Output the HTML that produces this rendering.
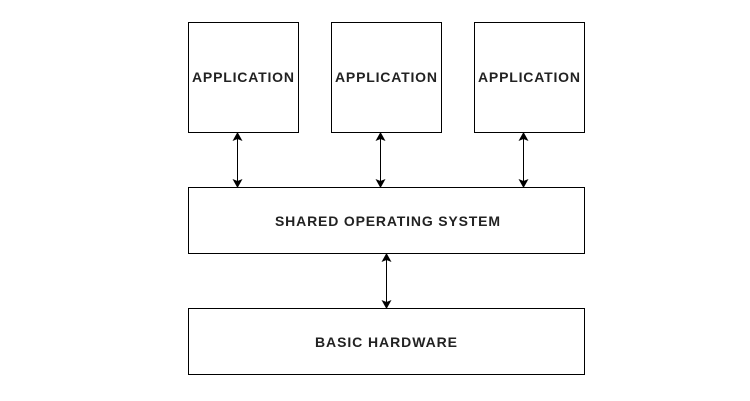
<!DOCTYPE html>
<html><head><style>html,body{margin:0;padding:0;background:#fff}</style></head>
<body>
<svg width="750" height="401" xmlns="http://www.w3.org/2000/svg" style="display:block">
<defs>
<marker id="a" markerWidth="9" markerHeight="10" refX="8" refY="5" orient="auto-start-reverse" markerUnits="userSpaceOnUse">
<path d="M0,0 L9,5 L0,10 L2,5 Z" fill="#000"/>
</marker>
</defs>
<g fill="#fff" stroke="#000" stroke-width="1">
<rect x="188.5" y="22.5" width="110" height="110"/>
<rect x="331.5" y="22.5" width="110" height="110"/>
<rect x="474.5" y="22.5" width="110" height="110"/>
<rect x="188.5" y="187.5" width="396" height="66"/>
<rect x="188.5" y="308.5" width="396" height="66"/>
</g>
<g stroke="#000" stroke-width="1" marker-start="url(#a)" marker-end="url(#a)">
<line x1="237.5" y1="133" x2="237.5" y2="187"/>
<line x1="380.5" y1="133" x2="380.5" y2="187"/>
<line x1="523.5" y1="133" x2="523.5" y2="187"/>
<line x1="386.5" y1="254" x2="386.5" y2="308"/>
</g>
<g font-family="Liberation Sans, Arial, sans-serif" font-weight="bold" font-size="14" fill="#222" lengthAdjust="spacingAndGlyphs">
<text x="192" y="82" textLength="102">APPLICATION</text>
<text x="335" y="82" textLength="102">APPLICATION</text>
<text x="478" y="82" textLength="102">APPLICATION</text>
<text x="275" y="226" textLength="225">SHARED OPERATING SYSTEM</text>
<text x="315" y="347" textLength="142">BASIC HARDWARE</text>
</g>
</svg>
</body></html>
